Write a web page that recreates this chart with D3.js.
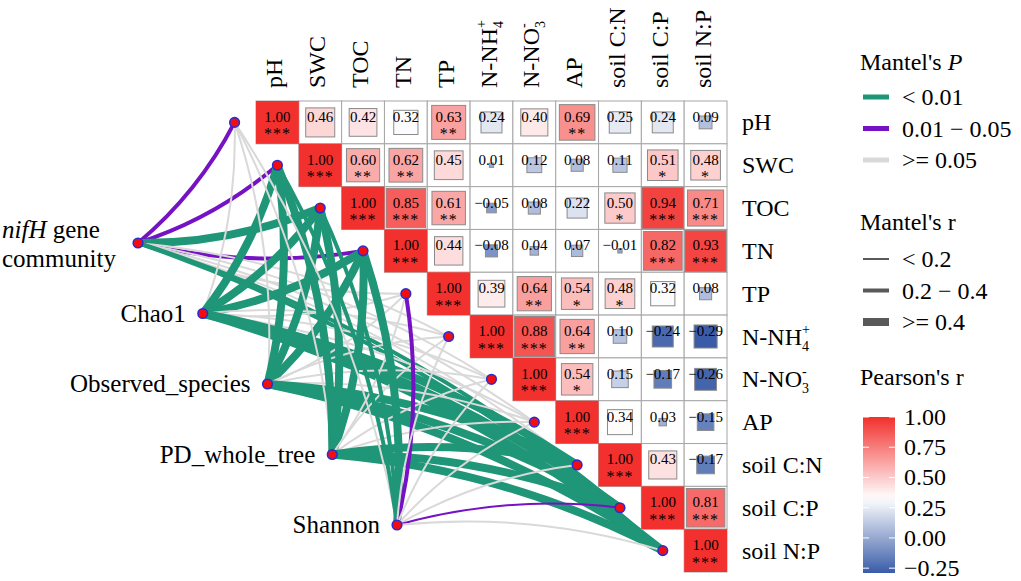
<!DOCTYPE html>
<html>
<head>
<meta charset="utf-8">
<script src="https://cdn.jsdelivr.net/npm/d3@7"></script>
<style>
  body { margin: 0; background: #fff; }
  svg { font-family: "Liberation Serif", "Times New Roman", serif; }
</style>
</head>
<body>
<svg id="chart" width="1021" height="581"></svg>
<script>
// environmental variables (matrix rows / columns)
const envKeys = ['pH', 'SWC', 'TOC', 'TN', 'TP', 'NH4', 'NO3', 'AP', 'CN', 'CP', 'NP']

// Pearson's r, upper triangle incl. diagonal, row by row
const corrRows = [
  [1.00, 0.46, 0.42, 0.32, 0.63, 0.24, 0.40, 0.69, 0.25, 0.24, 0.09],
  [1.00, 0.60, 0.62, 0.45, 0.01, 0.12, 0.08, 0.11, 0.51, 0.48],
  [1.00, 0.85, 0.61, -0.05, 0.08, 0.22, 0.50, 0.94, 0.71],
  [1.00, 0.44, -0.08, 0.04, 0.07, -0.01, 0.82, 0.93],
  [1.00, 0.39, 0.64, 0.54, 0.48, 0.32, 0.08],
  [1.00, 0.88, 0.64, 0.10, -0.24, -0.29],
  [1.00, 0.54, 0.15, -0.17, -0.26],
  [1.00, 0.34, 0.03, -0.15],
  [1.00, 0.43, -0.17],
  [1.00, 0.81],
  [1.00]
]
const starRows = [
  ['***', '', '', '', '**', '', '', '**', '', '', ''],
  ['***', '**', '**', '', '', '', '', '', '*', '*'],
  ['***', '***', '**', '', '', '', '*', '***', '***'],
  ['***', '', '', '', '', '', '***', '***'],
  ['***', '', '**', '*', '*', '', ''],
  ['***', '***', '**', '', '', ''],
  ['***', '*', '', '', ''],
  ['***', '', ''],
  ['***', '', ''],
  ['***', '***'],
  ['***']
]

// Mantel test, one row per community index, one code per env variable
// p: a = <0.01, b = 0.01-0.05, c = >=0.05 ; r: 1 = <0.2, 2 = 0.2-0.4, 3 = >=0.4
const samples = ['nifH', 'Chao1', 'Observed_species', 'PD_whole_tree', 'Shannon']
const mantelP = [
  ['b', 'b', 'a', 'b', 'c', 'c', 'c', 'c', 'c', 'a', 'a'],
  ['c', 'a', 'a', 'a', 'c', 'c', 'c', 'c', 'a', 'a', 'a'],
  ['c', 'a', 'a', 'a', 'c', 'c', 'c', 'c', 'a', 'a', 'a'],
  ['c', 'a', 'a', 'a', 'c', 'c', 'c', 'c', 'a', 'a', 'a'],
  ['c', 'a', 'a', 'a', 'b', 'c', 'c', 'c', 'c', 'b', 'c']
]
const mantelR = [
  [2, 2, 3, 2, 1, 1, 1, 1, 1, 2, 2],
  [1, 3, 3, 3, 1, 1, 1, 1, 3, 3, 3],
  [1, 3, 3, 3, 1, 1, 1, 1, 3, 3, 3],
  [1, 3, 3, 3, 1, 1, 1, 1, 3, 3, 3],
  [1, 2, 2, 3, 2, 1, 1, 1, 1, 1, 1]
]

const pLabels = ['< 0.01', '0.01 \u2212 0.05', '>= 0.05']
const rLabels = ['< 0.2', '0.2 \u2212 0.4', '>= 0.4']
const barTicks = [1.00, 0.75, 0.50, 0.25, 0.00, -0.25]

const pColor = { a: '#1f9677', b: '#7412c4', c: '#d9d9d9' }
const rWidth = { 1: 2, 2: 4, 3: 8 }

const svg = d3.select('#chart')

const x = d3.scaleBand().domain(envKeys).range([256, 727])
const y = d3.scaleBand().domain(envKeys).range([101, 572])
const cw = x.bandwidth()

const fill = d3.scaleLinear()
  .domain([-0.29, 0.33, 1])
  .range(['#3a5ca8', '#ffffff', '#f2302d'])
const side = d3.scaleSqrt().domain([0, 1]).range([0, cw])

// label writer with sub/superscripts
function envLabel(sel, k) {
  const base = { NH4: ['N-NH', '4', '+'], NO3: ['N-NO', '3', '-'], CN: ['soil C:N'], CP: ['soil C:P'], NP: ['soil N:P'] }[k] || [k]
  sel.append('tspan').text(base[0])
  if (base.length > 1) {
    sel.append('tspan').attr('font-size', 14).attr('dy', 6).text(base[1])
    sel.append('tspan').attr('font-size', 14).attr('dx', -7).attr('dy', -17).text(base[2])
  }
}

// ---- Mantel links ----
const sx = d3.scaleLinear().domain([0, 4]).range([138, 397])
const sy = d3.scaleLinear().domain([0, 4]).range([243, 525])
const envX = k => x(k) - cw / 2
const envY = k => y(k) + cw / 2

const links = []
samples.forEach((s, i) => {
  envKeys.forEach((k, j) => {
    links.push({ i, j, p: mantelP[i][j], r: mantelR[i][j] })
  })
})

function linkPath(d) {
  const x0 = sx(d.i), y0 = sy(d.i)
  const x1 = envX(envKeys[d.j]), y1 = envY(envKeys[d.j])
  const dx = x1 - x0, dy = y1 - y0
  const sign = d.j < 5 ? 1 : -1
  const k = 0.1 * sign
  const cx = (x0 + x1) / 2 - dy * k
  const cy = (y0 + y1) / 2 + dx * k
  const p = d3.path()
  p.moveTo(x0, y0)
  p.quadraticCurveTo(cx, cy, x1, y1)
  return p.toString()
}

svg.append('g').attr('class', 'links')
  .selectAll('path')
  .data(links)
  .enter().append('path')
  .attr('d', linkPath)
  .attr('fill', 'none')
  .attr('stroke', d => pColor[d.p])
  .attr('stroke-width', d => rWidth[d.r])

// ---- correlation matrix ----
const cells = []
corrRows.forEach((row, i) => {
  row.forEach((v, n) => {
    const j = i + n
    cells.push({ row: envKeys[i], col: envKeys[j], v, stars: starRows[i][n], diag: i === j })
  })
})

const cellG = svg.append('g').attr('class', 'cells')
cellG.selectAll('rect.grid')
  .data(cells)
  .enter().append('rect')
  .attr('class', 'grid')
  .attr('x', d => x(d.col)).attr('y', d => y(d.row))
  .attr('width', cw).attr('height', cw)
  .attr('fill', 'white').attr('stroke', '#a6a6a6').attr('stroke-width', 1)

cellG.selectAll('rect.sq')
  .data(cells)
  .enter().append('rect')
  .attr('class', 'sq')
  .attr('x', d => x(d.col) + (cw - side(Math.abs(d.v))) / 2)
  .attr('y', d => y(d.row) + (cw - side(Math.abs(d.v))) / 2)
  .attr('width', d => side(Math.abs(d.v)))
  .attr('height', d => side(Math.abs(d.v)))
  .attr('fill', d => fill(d.v))
  .attr('stroke', d => d.diag ? 'none' : '#8a8a8a')
  .attr('stroke-width', 1)

cellG.selectAll('text.val')
  .data(cells)
  .enter().append('text')
  .attr('class', 'val')
  .attr('x', d => x(d.col) + cw / 2)
  .attr('y', d => y(d.row) + cw / 2 - 0.5)
  .attr('text-anchor', 'middle')
  .attr('font-size', 15)
  .text(d => d3.format('.2f')(d.v).replace('-', '\u2212'))

cellG.selectAll('text.star')
  .data(cells.filter(d => d.stars))
  .enter().append('text')
  .attr('class', 'star')
  .attr('x', d => x(d.col) + cw / 2)
  .attr('y', d => y(d.row) + cw / 2 + 17)
  .attr('text-anchor', 'middle')
  .attr('font-size', 16)
  .attr('letter-spacing', 1)
  .text(d => d.stars)

// ---- nodes ----
const nodes = envKeys.map(k => ({ x: envX(k), y: envY(k) }))
  .concat(samples.map((s, i) => ({ x: sx(i), y: sy(i) })))
svg.append('g').selectAll('circle')
  .data(nodes)
  .enter().append('circle')
  .attr('cx', d => d.x).attr('cy', d => d.y).attr('r', 4.8)
  .attr('fill', '#f50d0d').attr('stroke', '#2b2bd6').attr('stroke-width', 1.6)

// ---- axis labels ----
svg.append('g').selectAll('text')
  .data(envKeys)
  .enter().append('text')
  .attr('transform', d => `translate(${x(d) + cw / 2 + 5},88) rotate(-90)`)
  .attr('font-size', 24)
  .each(function (d) { envLabel(d3.select(this), d) })

svg.append('g').selectAll('text')
  .data(envKeys)
  .enter().append('text')
  .attr('x', 742)
  .attr('y', d => y(d) + cw / 2 + 8)
  .attr('font-size', 24)
  .each(function (d) { envLabel(d3.select(this), d) })

// sample labels
const nifLab = svg.append('text').attr('x', 2).attr('y', 238).attr('font-size', 25)
nifLab.append('tspan').attr('font-style', 'italic').text('nifH')
nifLab.append('tspan').text(' gene')
svg.append('text').attr('x', 2).attr('y', 267).attr('font-size', 25).text('community')

svg.append('g').selectAll('text')
  .data(samples.slice(1))
  .enter().append('text')
  .attr('x', (d, i) => sx(i + 1) - 17)
  .attr('y', (d, i) => sy(i + 1) + 8)
  .attr('text-anchor', 'end')
  .attr('font-size', 25)
  .text(d => d)

// ---- legends ----
const lg = svg.append('g').attr('font-size', 24)
const t1 = lg.append('text').attr('x', 860).attr('y', 70)
t1.append('tspan').text("Mantel's ")
t1.append('tspan').attr('font-style', 'italic').text('P')
pLabels.forEach((l, i) => {
  const yy = 97 + i * 31.5
  lg.append('line').attr('x1', 863).attr('x2', 889).attr('y1', yy).attr('y2', yy)
    .attr('stroke', pColor['abc'[i]]).attr('stroke-width', 5)
  lg.append('text').attr('x', 902).attr('y', yy + 8).text(l)
})

lg.append('text').attr('x', 860).attr('y', 230).text("Mantel's r")
rLabels.forEach((l, i) => {
  const yy = 259 + i * 31.5
  lg.append('line').attr('x1', 863).attr('x2', 889).attr('y1', yy).attr('y2', yy)
    .attr('stroke', '#595959').attr('stroke-width', rWidth[i + 1])
  lg.append('text').attr('x', 902).attr('y', yy + 8).text(l)
})

lg.append('text').attr('x', 860).attr('y', 385).text("Pearson's r")
const barY = d3.scaleLinear().domain([-0.29, 1]).range([573, 417])
const grad = svg.append('defs').append('linearGradient')
  .attr('id', 'pgrad').attr('x1', 0).attr('y1', 1).attr('x2', 0).attr('y2', 0)
d3.range(0, 1.0001, 0.05).forEach(t => {
  const v = -0.29 + t * 1.29
  grad.append('stop').attr('offset', t).attr('stop-color', fill(v))
})
lg.append('rect').attr('x', 863).attr('y', 417).attr('width', 32).attr('height', 156)
  .attr('fill', 'url(#pgrad)')
barTicks.forEach(v => {
  const yy = barY(v)
  lg.append('line').attr('x1', 863).attr('x2', 869).attr('y1', yy).attr('y2', yy)
    .attr('stroke', 'white').attr('stroke-width', 1)
  lg.append('line').attr('x1', 889).attr('x2', 895).attr('y1', yy).attr('y2', yy)
    .attr('stroke', 'white').attr('stroke-width', 1)
  lg.append('text').attr('x', 904).attr('y', yy + 8)
    .text(d3.format('.2f')(v).replace('-', '\u2212'))
})
</script>
</body>
</html>
